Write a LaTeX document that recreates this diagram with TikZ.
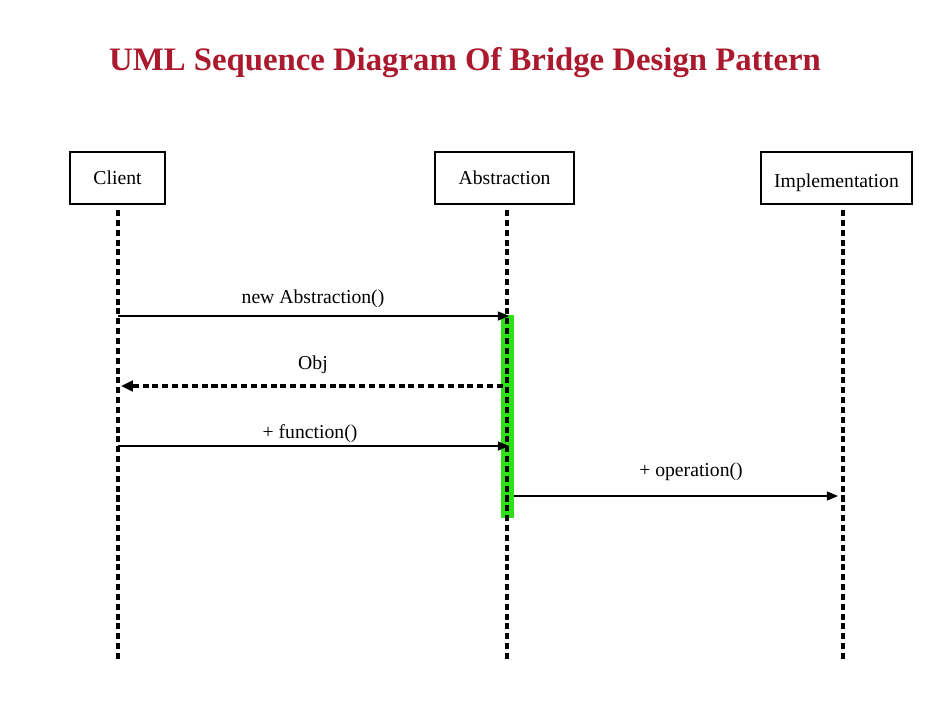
\documentclass[tikz,border=0pt]{standalone}
\usepackage{fontspec}
\setmainfont{Liberation Serif}
\usepackage{tikz}
\usetikzlibrary{positioning}
\usetikzlibrary{shapes,arrows.meta}

\definecolor{titlered}{RGB}{170,25,45}
\definecolor{actgreen}{RGB}{45,225,20}

\tikzset{
  actor/.style={draw, line width=1pt, minimum height=1.3cm, inner sep=0pt, font=\fontsize{14}{16}\selectfont},
  lifeline/.style={line width=2.6pt, dash pattern=on 4.3pt off 2.7pt},
  msg/.style={-{Triangle[length=8pt,width=6.5pt]}, line width=0.8pt},
  reply/.style={-{Triangle[length=8.5pt,width=7.5pt]}, line width=2.6pt, dash pattern=on 4.3pt off 2.7pt},
  msglabel/.style={font=\fontsize{14}{16}\selectfont}
}

\begin{document}
\begin{tikzpicture}[x=0.025cm, y=-0.025cm]
\useasboundingbox (0,0) rectangle (942,706);

% title %
\node[text=titlered, font=\fontsize{23.3}{26}\selectfont\bfseries] (title) at (465,63) {UML Sequence Diagram Of Bridge Design Pattern};

% actors %
\node[actor, minimum width=2.375cm] (client) at (117.5,178) {Client};
\node[actor, minimum width=3.475cm] (abstr) at (504.5,178) {Abstraction};
\node[actor, minimum width=3.775cm, text height=13pt, text depth=0pt] (impl) at (836.5,178) {Implementation};

% lifelines %
\coordinate (client-top) at (118,210);
\coordinate (client-end) at (118,660);
\coordinate (abstr-top) at (507,210);
\coordinate (abstr-end) at (507,660);
\coordinate (impl-top) at (843,210);
\coordinate (impl-end) at (843,660);

\fill[actgreen] (501,315) rectangle (514,518);

\draw[lifeline] (client-top) -- (client-end);
\draw[lifeline] (abstr-top) -- (abstr-end);
\draw[lifeline] (impl-top) -- (impl-end);

% messages %
\coordinate (m1-from) at (118,316);
\coordinate (m1-to) at (509,316);
\coordinate (m2-from) at (503,386);
\coordinate (m2-to) at (121,386);
\coordinate (m3-from) at (118,446);
\coordinate (m3-to) at (509,446);
\coordinate (m4-from) at (514,496);
\coordinate (m4-to) at (838,496);

\draw[msg] (m1-from) -- (m1-to);
\draw[reply] (m2-from) -- (m2-to);
\draw[msg] (m3-from) -- (m3-to);
\draw[msg] (m4-from) -- (m4-to);

\node[msglabel] (l1) at (313,299) {new Abstraction()};
\node[msglabel] (l2) at (313,365) {Obj};
\node[msglabel] (l3) at (310,434) {+ function()};
\node[msglabel] (l4) at (691,472) {+ operation()};

\end{tikzpicture}
\end{document}
